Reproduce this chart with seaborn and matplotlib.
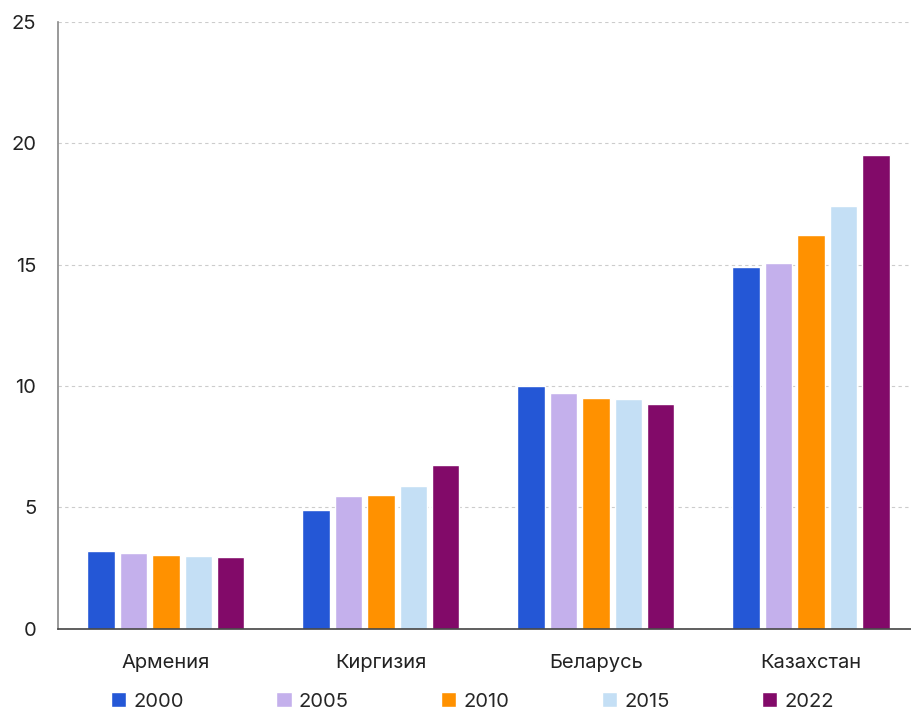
"""Grouped bar chart: values by country and year."""
import matplotlib
matplotlib.use("Agg")
import matplotlib.pyplot as plt
import pandas as pd
import seaborn as sns

COUNTRIES = ["Армения", "Киргизия", "Беларусь", "Казахстан"]
YEARS = ["2000", "2005", "2010", "2015", "2022"]
COLORS = ["#2457d6", "#c4b0ec", "#ff9100", "#c4dff5", "#820a69"]

V2000 = [3.21, 4.90, 10.00, 14.90]
V2005 = [3.13, 5.47, 9.72, 15.07]
V2010 = [3.05, 5.50, 9.51, 16.22]
V2015 = [3.00, 5.89, 9.46, 17.42]
V2022 = [2.97, 6.75, 9.26, 19.51]

rows = []
for year, vals in zip(YEARS, [V2000, V2005, V2010, V2015, V2022]):
    for c, v in zip(COUNTRIES, vals):
        rows.append({"country": c, "year": year, "value": v})
df = pd.DataFrame(rows)

sns.set_style("white")
plt.rcParams["font.family"] = ["Inter", "DejaVu Sans"]

fig, ax = plt.subplots(figsize=(9.12, 7.16), dpi=100)
fig.subplots_adjust(left=0.064, right=1.0, top=0.969, bottom=0.122)

sns.barplot(data=df, x="country", y="value", hue="year", palette=COLORS,
            saturation=1, width=0.755, gap=0.16, ax=ax, legend=True)

ax.set_ylim(0, 25)
ax.set_yticks([0, 5, 10, 15, 20, 25])
ax.set_xlim(-0.5, 3.47)
ax.yaxis.grid(True, linestyle=(0, (3, 3)), color="#cccccc", linewidth=0.8)
ax.set_axisbelow(True)
ax.set_xlabel("")
ax.set_ylabel("")
for s in ["top", "right"]:
    ax.spines[s].set_visible(False)
ax.spines["left"].set_color("#888888")
ax.spines["bottom"].set_color("#444444")
ax.spines["left"].set_linewidth(1.2)
ax.spines["bottom"].set_linewidth(1.2)
ax.tick_params(axis="both", length=0, labelsize=14.5, colors="#222222")
ax.tick_params(axis="y", pad=16)
ax.tick_params(axis="x", pad=18)

handles, labels = ax.get_legend_handles_labels()
ax.get_legend().remove()
fig.legend(handles, labels, loc="lower center", ncol=5, frameon=False,
           bbox_to_anchor=(0.518, -0.018), fontsize=14.5, handlelength=0.75,
           handleheight=0.75, handletextpad=0.35, columnspacing=4.6)

fig.savefig("out.png", dpi=100)
plt.close()
